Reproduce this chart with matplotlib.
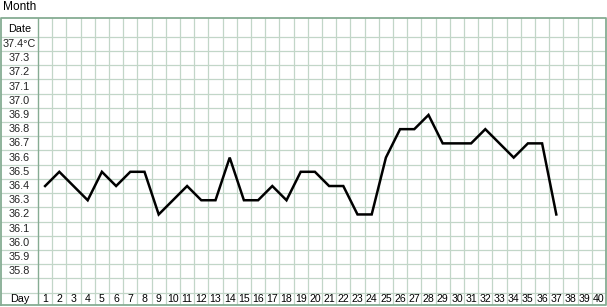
import matplotlib
matplotlib.use("Agg")
import matplotlib.pyplot as plt
import numpy as np

plt.rcParams['font.family'] = ['Liberation Sans', 'DejaVu Sans']

days = list(range(1, 41))
temp_labels = ["37.4°C", "37.3", "37.2", "37.1", "37.0", "36.9", "36.8", "36.7",
               "36.6", "36.5", "36.4", "36.3", "36.2", "36.1", "36.0", "35.9", "35.8"]
temp_levels = [37.4, 37.3, 37.2, 37.1, 37.0, 36.9, 36.8, 36.7,
               36.6, 36.5, 36.4, 36.3, 36.2, 36.1, 36.0, 35.9, 35.8]
record_days = list(range(1, 38))
record_temps = [36.4, 36.5, 36.4, 36.3, 36.5, 36.4, 36.5, 36.5, 36.2, 36.3,
                36.4, 36.3, 36.3, 36.6, 36.3, 36.3, 36.4, 36.3, 36.5, 36.5,
                36.4, 36.4, 36.2, 36.2, 36.6, 36.8, 36.8, 36.9, 36.7, 36.7,
                36.7, 36.8, 36.7, 36.6, 36.7, 36.7, 36.2]

W, H = 607, 307
fig = plt.figure(figsize=(W / 100, H / 100), dpi=100)
left_px, right_px, top_px, bottom_px = 1, 606, 18, 305
ax = fig.add_axes([left_px / W, (H - bottom_px) / H,
                   (right_px - left_px) / W, (bottom_px - top_px) / H])

step = 0.1
xl = 0.5 - 37 / 14.2
xr = 40.5
y_top = 37.45 + 0.132
y_blank_bot = 35.65
y_bot = 35.65 - 0.087
ax.set_xlim(xl, xr)
ax.set_ylim(y_bot, y_top)
ax.axis('off')

grid_c = '#c2d6c8'
border_c = '#86ac93'
# horizontal grid lines
hlines = [37.45 - i * step for i in range(19)]
for yv in hlines:
    ax.plot([xl, xr], [yv, yv], color=grid_c, lw=0.9, zorder=1)
# vertical grid lines
for d in range(1, 40):
    ax.plot([d + 0.5, d + 0.5], [y_bot, y_top], color=grid_c, lw=0.9, zorder=1)
ax.plot([0.5, 0.5], [y_bot, y_top], color=border_c, lw=1.0, zorder=2)
# border
ax.plot([xl, xr, xr, xl, xl], [y_bot, y_bot, y_top, y_top, y_bot],
        color=border_c, lw=1.3, zorder=3, clip_on=False)

lx = (xl + 0.5) / 2
ax.text(lx, (37.45 + y_top) / 2 - 0.01, "Date", ha='center', va='center', fontsize=7.8)
for lab, t in zip(temp_labels, temp_levels):
    ax.text(lx, t, lab, ha='center', va='center', fontsize=7.8, color='#222222')
day_y = (y_blank_bot + y_bot) / 2
ax.text(lx, day_y, "Day", ha='center', va='center', fontsize=7.8)
for d in days:
    ax.text(d, day_y, str(d), ha='center', va='center', fontsize=7.6)

ax.plot(record_days, record_temps, color='black', lw=1.8, zorder=5,
        solid_joinstyle='miter')

fig.text(3 / W, 1 - 7 / H, "Month", ha='left', va='center', fontsize=8.6)

fig.savefig("out.png", dpi=100)
